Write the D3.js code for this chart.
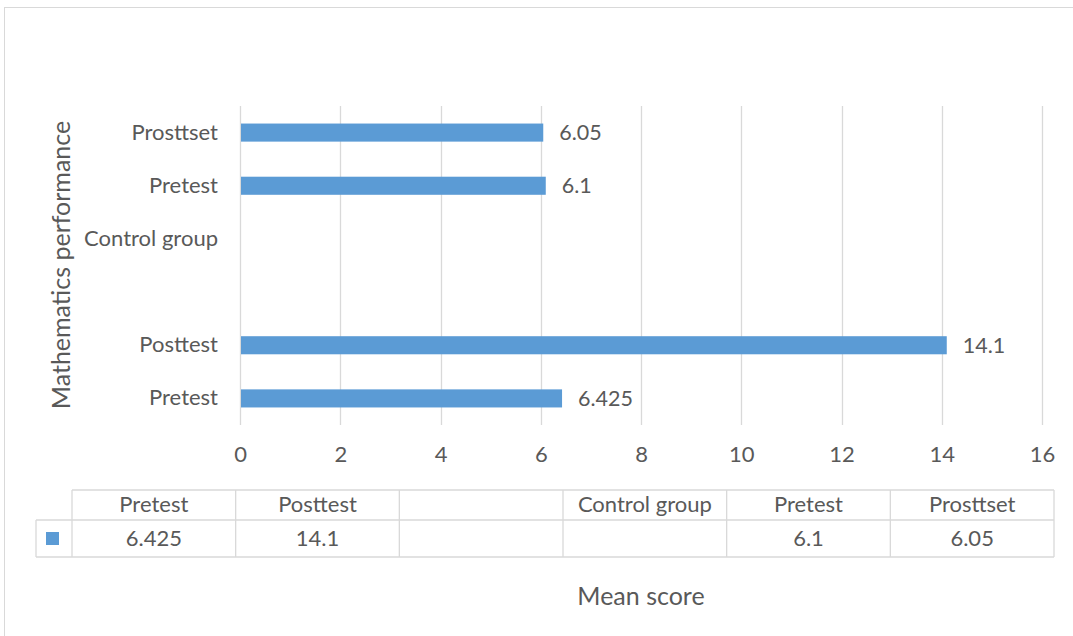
<!DOCTYPE html>
<html>
<head>
<meta charset="utf-8">
<script src="https://cdn.jsdelivr.net/npm/d3@7/dist/d3.min.js"></script>
<style>
  html, body { margin: 0; padding: 0; background: #fff; }
  svg { display: block; }
  text { font-family: Lato, "Open Sans", sans-serif; fill: #595959; }
</style>
</head>
<body>
<svg id="chart" width="1073" height="636"></svg>
<script>
// Data (bottom-to-top order as in the chart / table left-to-right)
const categories = ["Pretest", "Posttest", "", "Control group", "Pretest", "Prosttset"];
const values = [6.425, 14.1, null, null, 6.1, 6.05];
const valueLabels = ["6.425", "14.1", "", "", "6.1", "6.05"];
const xTicks = [0, 2, 4, 6, 8, 10, 12, 14, 16];
const xAxisTitle = "Mean score";
const yAxisTitle = "Mathematics performance";

const svg = d3.select("#chart");
const barColor = "#5B9BD5";
const gridColor = "#d9d9d9";
const fs = 22;

// outer chart border
svg.append("rect").attr("x", 4.5).attr("y", 7.5).attr("width", 1100).attr("height", 700)
  .attr("fill", "none").attr("stroke", "#d9d9d9").attr("stroke-width", 1);

const plot = { left: 240, right: 1042, top: 106, bottom: 425 };
const idx = d3.range(categories.length);

const x = d3.scaleLinear().domain([0, 16]).range([plot.left, plot.right]);
// index 0 at bottom
const y = d3.scaleBand().domain(idx).range([plot.bottom, plot.top]).paddingInner(0.66).paddingOuter(0.33);

// gridlines
svg.append("g").selectAll("line").data(xTicks).join("line")
  .attr("x1", d => Math.round(x(d)) + 0.5).attr("x2", d => Math.round(x(d)) + 0.5)
  .attr("y1", plot.top).attr("y2", plot.bottom)
  .attr("stroke", gridColor).attr("stroke-width", 1.3);

// x axis tick labels via d3 axis
const xAxis = svg.append("g").attr("transform", `translate(0,${plot.bottom + 21})`)
  .call(d3.axisBottom(x).tickValues(xTicks).tickSize(0).tickPadding(0).tickFormat(d3.format("d")));
xAxis.select(".domain").remove();
xAxis.selectAll("text").attr("font-size", fs).attr("fill", "#595959")
  .attr("font-family", "Lato, 'Open Sans', sans-serif");

// y axis category labels
const yAxis = svg.append("g").attr("transform", `translate(${plot.left - 22},0)`)
  .call(d3.axisLeft(y).tickSize(0).tickPadding(0).tickFormat(i => categories[i]));
yAxis.select(".domain").remove();
yAxis.selectAll("text").attr("font-size", fs).attr("fill", "#595959")
  .attr("font-family", "Lato, 'Open Sans', sans-serif");

// bars
const barData = idx.filter(i => values[i] != null);
svg.append("g").selectAll("rect").data(barData).join("rect")
  .attr("x", x(0) + 1).attr("y", i => y(i))
  .attr("width", i => x(values[i]) - x(0) - 1)
  .attr("height", y.bandwidth())
  .attr("fill", barColor);

// data labels
svg.append("g").selectAll("text").data(barData).join("text")
  .attr("x", i => x(values[i]) + 16)
  .attr("y", i => y(i) + y.bandwidth() / 2)
  .attr("dy", "0.35em")
  .attr("font-size", 21.5)
  .attr("fill", "#404040")
  .text(i => valueLabels[i]);

// data table
const tbl = { left: 72, right: 1054, top: 490, mid: 520, bottom: 557, legLeft: 36 };
const col = d3.scaleBand().domain(idx).range([tbl.left, tbl.right]);
const tg = svg.append("g");
const lineAttr = sel => sel.attr("stroke", gridColor).attr("stroke-width", 1.3).attr("fill", "none");
// horizontal lines
tg.append("line").attr("x1", tbl.left).attr("x2", tbl.right).attr("y1", tbl.top).attr("y2", tbl.top).call(lineAttr);
tg.append("line").attr("x1", tbl.legLeft).attr("x2", tbl.right).attr("y1", tbl.mid).attr("y2", tbl.mid).call(lineAttr);
tg.append("line").attr("x1", tbl.legLeft).attr("x2", tbl.right).attr("y1", tbl.bottom).attr("y2", tbl.bottom).call(lineAttr);
// vertical lines
tg.append("line").attr("x1", tbl.legLeft).attr("x2", tbl.legLeft).attr("y1", tbl.mid).attr("y2", tbl.bottom).call(lineAttr);
tg.selectAll("line.v").data(idx.concat([categories.length])).join("line").attr("class", "v")
  .attr("x1", i => i < categories.length ? col(i) : tbl.right)
  .attr("x2", i => i < categories.length ? col(i) : tbl.right)
  .attr("y1", tbl.top).attr("y2", tbl.bottom).call(lineAttr);
// header text
tg.selectAll("text.h").data(idx).join("text").attr("class", "h")
  .attr("x", i => col(i) + col.bandwidth() / 2)
  .attr("y", (tbl.top + tbl.mid) / 2 - 1).attr("dy", "0.35em")
  .attr("text-anchor", "middle").attr("font-size", fs)
  .text(i => categories[i]);
// values
tg.selectAll("text.v").data(idx).join("text").attr("class", "v")
  .attr("x", i => col(i) + col.bandwidth() / 2)
  .attr("y", (tbl.mid + tbl.bottom) / 2).attr("dy", "0.35em")
  .attr("text-anchor", "middle").attr("font-size", fs)
  .text(i => valueLabels[i]);
// legend key
tg.append("rect").attr("x", 46).attr("y", 532).attr("width", 13).attr("height", 13).attr("fill", barColor);

// axis titles
svg.append("text").attr("x", (plot.left + plot.right) / 2).attr("y", 596).attr("dy", "0.35em")
  .attr("text-anchor", "middle").attr("font-size", 25).text(xAxisTitle);
svg.append("text").attr("transform", `translate(61,265) rotate(-90)`).attr("dy", "0.35em")
  .attr("text-anchor", "middle").attr("font-size", 25).text(yAxisTitle);
</script>
</body>
</html>
